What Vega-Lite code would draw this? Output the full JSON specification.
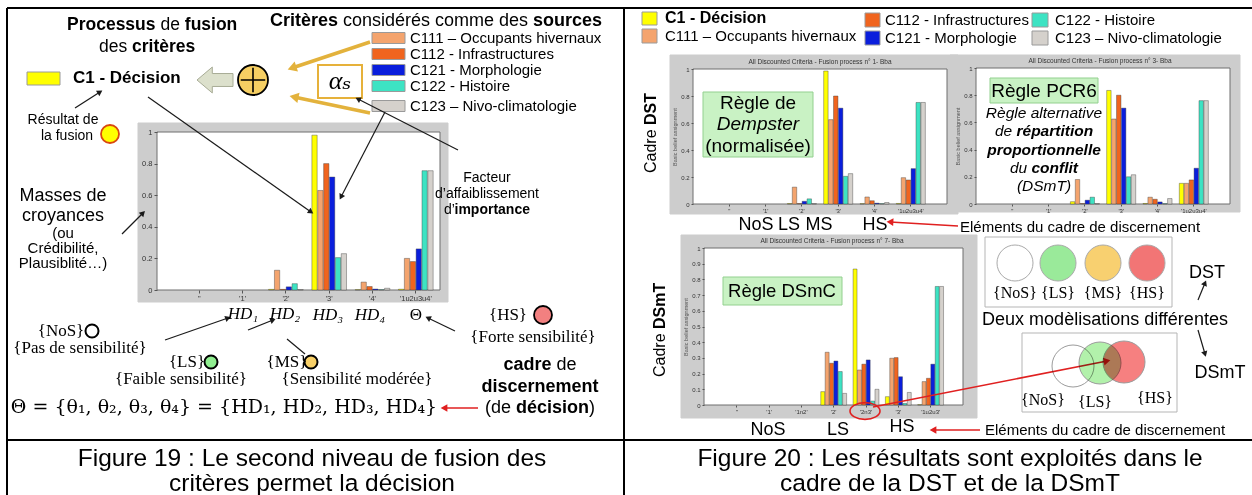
{
  "$schema": "https://vega.github.io/schema/vega-lite/v6.json",
  "width": 1252,
  "height": 495,
  "padding": 0,
  "autosize": {"type": "none"},
  "background": "white",
  "config": {
    "view": {"stroke": null},
    "axis": {"grid": false, "labelFont": "Liberation Sans", "titleFont": "Liberation Sans"},
    "text": {"font": "Liberation Sans"}
  },
  "datasets": {
    "bars": [
      {"chart":"F19","cat":"'2'","series":"C1","v":0.004},
      {"chart":"F19","cat":"'2'","series":"C111","v":0.125},
      {"chart":"F19","cat":"'2'","series":"C112","v":0.004},
      {"chart":"F19","cat":"'2'","series":"C121","v":0.02},
      {"chart":"F19","cat":"'2'","series":"C122","v":0.04},
      {"chart":"F19","cat":"'2'","series":"C123","v":0.003},
      {"chart":"F19","cat":"'3'","series":"C1","v":0.98},
      {"chart":"F19","cat":"'3'","series":"C111","v":0.63},
      {"chart":"F19","cat":"'3'","series":"C112","v":0.8},
      {"chart":"F19","cat":"'3'","series":"C121","v":0.715},
      {"chart":"F19","cat":"'3'","series":"C122","v":0.205},
      {"chart":"F19","cat":"'3'","series":"C123","v":0.23},
      {"chart":"F19","cat":"'4'","series":"C1","v":0.002},
      {"chart":"F19","cat":"'4'","series":"C111","v":0.05},
      {"chart":"F19","cat":"'4'","series":"C112","v":0.022},
      {"chart":"F19","cat":"'4'","series":"C121","v":0.006},
      {"chart":"F19","cat":"'4'","series":"C122","v":0.002},
      {"chart":"F19","cat":"'4'","series":"C123","v":0.011},
      {"chart":"F19","cat":"'1u2u3u4'","series":"C1","v":0.005},
      {"chart":"F19","cat":"'1u2u3u4'","series":"C111","v":0.2},
      {"chart":"F19","cat":"'1u2u3u4'","series":"C112","v":0.18},
      {"chart":"F19","cat":"'1u2u3u4'","series":"C121","v":0.26},
      {"chart":"F19","cat":"'1u2u3u4'","series":"C122","v":0.755},
      {"chart":"F19","cat":"'1u2u3u4'","series":"C123","v":0.755},
      {"chart":"DST","cat":"'2'","series":"C1","v":0.003},
      {"chart":"DST","cat":"'2'","series":"C111","v":0.125},
      {"chart":"DST","cat":"'2'","series":"C112","v":0.003},
      {"chart":"DST","cat":"'2'","series":"C121","v":0.02},
      {"chart":"DST","cat":"'2'","series":"C122","v":0.038},
      {"chart":"DST","cat":"'2'","series":"C123","v":0.003},
      {"chart":"DST","cat":"'3'","series":"C1","v":0.985},
      {"chart":"DST","cat":"'3'","series":"C111","v":0.625},
      {"chart":"DST","cat":"'3'","series":"C112","v":0.8},
      {"chart":"DST","cat":"'3'","series":"C121","v":0.71},
      {"chart":"DST","cat":"'3'","series":"C122","v":0.205},
      {"chart":"DST","cat":"'3'","series":"C123","v":0.225},
      {"chart":"DST","cat":"'4'","series":"C1","v":0.002},
      {"chart":"DST","cat":"'4'","series":"C111","v":0.052},
      {"chart":"DST","cat":"'4'","series":"C112","v":0.024},
      {"chart":"DST","cat":"'4'","series":"C121","v":0.006},
      {"chart":"DST","cat":"'4'","series":"C122","v":0.002},
      {"chart":"DST","cat":"'4'","series":"C123","v":0.011},
      {"chart":"DST","cat":"'1u2u3u4'","series":"C1","v":0.004},
      {"chart":"DST","cat":"'1u2u3u4'","series":"C111","v":0.195},
      {"chart":"DST","cat":"'1u2u3u4'","series":"C112","v":0.178},
      {"chart":"DST","cat":"'1u2u3u4'","series":"C121","v":0.262},
      {"chart":"DST","cat":"'1u2u3u4'","series":"C122","v":0.752},
      {"chart":"DST","cat":"'1u2u3u4'","series":"C123","v":0.752},
      {"chart":"PCR6","cat":"'2'","series":"C1","v":0.017},
      {"chart":"PCR6","cat":"'2'","series":"C111","v":0.18},
      {"chart":"PCR6","cat":"'2'","series":"C112","v":0.003},
      {"chart":"PCR6","cat":"'2'","series":"C121","v":0.028},
      {"chart":"PCR6","cat":"'2'","series":"C122","v":0.05},
      {"chart":"PCR6","cat":"'2'","series":"C123","v":0.003},
      {"chart":"PCR6","cat":"'3'","series":"C1","v":0.835},
      {"chart":"PCR6","cat":"'3'","series":"C111","v":0.625},
      {"chart":"PCR6","cat":"'3'","series":"C112","v":0.8},
      {"chart":"PCR6","cat":"'3'","series":"C121","v":0.705},
      {"chart":"PCR6","cat":"'3'","series":"C122","v":0.2},
      {"chart":"PCR6","cat":"'3'","series":"C123","v":0.215},
      {"chart":"PCR6","cat":"'4'","series":"C1","v":0.004},
      {"chart":"PCR6","cat":"'4'","series":"C111","v":0.05},
      {"chart":"PCR6","cat":"'4'","series":"C112","v":0.035},
      {"chart":"PCR6","cat":"'4'","series":"C121","v":0.015},
      {"chart":"PCR6","cat":"'4'","series":"C122","v":0.002},
      {"chart":"PCR6","cat":"'4'","series":"C123","v":0.04},
      {"chart":"PCR6","cat":"'1u2u3u4'","series":"C1","v":0.152},
      {"chart":"PCR6","cat":"'1u2u3u4'","series":"C111","v":0.152},
      {"chart":"PCR6","cat":"'1u2u3u4'","series":"C112","v":0.177},
      {"chart":"PCR6","cat":"'1u2u3u4'","series":"C121","v":0.263},
      {"chart":"PCR6","cat":"'1u2u3u4'","series":"C122","v":0.76},
      {"chart":"PCR6","cat":"'1u2u3u4'","series":"C123","v":0.76},
      {"chart":"DSmC","cat":"'2'","series":"C1","v":0.085},
      {"chart":"DSmC","cat":"'2'","series":"C111","v":0.336},
      {"chart":"DSmC","cat":"'2'","series":"C112","v":0.266},
      {"chart":"DSmC","cat":"'2'","series":"C121","v":0.28},
      {"chart":"DSmC","cat":"'2'","series":"C122","v":0.213},
      {"chart":"DSmC","cat":"'2'","series":"C123","v":0.074},
      {"chart":"DSmC","cat":"'2n3'","series":"C1","v":0.866},
      {"chart":"DSmC","cat":"'2n3'","series":"C111","v":0.223},
      {"chart":"DSmC","cat":"'2n3'","series":"C112","v":0.26},
      {"chart":"DSmC","cat":"'2n3'","series":"C121","v":0.287},
      {"chart":"DSmC","cat":"'2n3'","series":"C122","v":0.025},
      {"chart":"DSmC","cat":"'2n3'","series":"C123","v":0.1},
      {"chart":"DSmC","cat":"'3'","series":"C1","v":0.053},
      {"chart":"DSmC","cat":"'3'","series":"C111","v":0.298},
      {"chart":"DSmC","cat":"'3'","series":"C112","v":0.302},
      {"chart":"DSmC","cat":"'3'","series":"C121","v":0.18},
      {"chart":"DSmC","cat":"'3'","series":"C122","v":0.01},
      {"chart":"DSmC","cat":"'3'","series":"C123","v":0.08},
      {"chart":"DSmC","cat":"'1u2u3'","series":"C1","v":0.002},
      {"chart":"DSmC","cat":"'1u2u3'","series":"C111","v":0.149},
      {"chart":"DSmC","cat":"'1u2u3'","series":"C112","v":0.17},
      {"chart":"DSmC","cat":"'1u2u3'","series":"C121","v":0.26},
      {"chart":"DSmC","cat":"'1u2u3'","series":"C122","v":0.755},
      {"chart":"DSmC","cat":"'1u2u3'","series":"C123","v":0.755}
    ],
    "rects": [
      {"x":138,"y":123,"x2":448,"y2":302,"k":"frame"},
      {"x":670,"y":55,"x2":958,"y2":214,"k":"frame"},
      {"x":950,"y":55,"x2":1240,"y2":212,"k":"frame"},
      {"x":681,"y":235,"x2":977,"y2":418,"k":"frame"},
      {"x":157,"y":132,"x2":440,"y2":290,"k":"plot"},
      {"x":693,"y":69,"x2":947,"y2":204,"k":"plot"},
      {"x":976,"y":68,"x2":1230,"y2":204,"k":"plot"},
      {"x":704,"y":248,"x2":963,"y2":405,"k":"plot"},
      {"x":703,"y":92,"x2":813,"y2":157,"k":"gbox"},
      {"x":990,"y":78,"x2":1098,"y2":103,"k":"gbox"},
      {"x":723,"y":277,"x2":842,"y2":305,"k":"gbox"},
      {"x":985,"y":237,"x2":1172,"y2":307,"k":"vbox"},
      {"x":1022,"y":333,"x2":1177,"y2":412,"k":"vbox"},
      {"x":27,"y":72,"x2":60,"y2":85,"k":"C1"},
      {"x":372,"y":32.5,"x2":405,"y2":43.5,"k":"C111"},
      {"x":372,"y":48.5,"x2":405,"y2":59.5,"k":"C112"},
      {"x":372,"y":64.5,"x2":405,"y2":75.5,"k":"C121"},
      {"x":372,"y":80.5,"x2":405,"y2":91.5,"k":"C122"},
      {"x":372,"y":100.5,"x2":405,"y2":111.5,"k":"C123"},
      {"x":642,"y":12,"x2":657,"y2":25,"k":"C1"},
      {"x":642,"y":29,"x2":657,"y2":43,"k":"C111"},
      {"x":865,"y":13,"x2":880,"y2":27,"k":"C112"},
      {"x":865,"y":31,"x2":880,"y2":45,"k":"C121"},
      {"x":1032,"y":13,"x2":1048,"y2":27,"k":"C122"},
      {"x":1032,"y":31,"x2":1048,"y2":45,"k":"C123"},
      {"x":318,"y":65,"x2":362,"y2":98,"k":"abox"}
    ],
    "lines": [
      {"x":7,"y":8,"x2":1252,"y2":8,"k":"b","h":0},
      {"x":7,"y":8,"x2":7,"y2":495,"k":"b","h":0},
      {"x":624,"y":8,"x2":624,"y2":495,"k":"b","h":0},
      {"x":7,"y":440,"x2":1252,"y2":440,"k":"b","h":0},
      {"x":75,"y":108,"x2":100,"y2":92,"k":"k","h":1},
      {"x":148,"y":97,"x2":311,"y2":212,"k":"k","h":1},
      {"x":385,"y":112,"x2":341,"y2":197,"k":"k","h":1},
      {"x":458,"y":150,"x2":358,"y2":99,"k":"k","h":1},
      {"x":122,"y":234,"x2":143,"y2":213,"k":"k","h":1},
      {"x":165,"y":340,"x2":228,"y2":318,"k":"k","h":1},
      {"x":248,"y":330,"x2":273,"y2":320,"k":"k","h":1},
      {"x":305,"y":354,"x2":287,"y2":339,"k":"k","h":0},
      {"x":455,"y":331,"x2":428,"y2":318,"k":"k","h":1},
      {"x":370,"y":42,"x2":292,"y2":68,"k":"g","h":1},
      {"x":370,"y":113,"x2":294,"y2":97,"k":"g","h":1},
      {"x":478,"y":408,"x2":444,"y2":408,"k":"r","h":1},
      {"x":958,"y":226,"x2":890,"y2":222,"k":"r","h":1},
      {"x":980,"y":430,"x2":933,"y2":430,"k":"r","h":1},
      {"x":873,"y":407,"x2":1107,"y2":361,"k":"r","h":1},
      {"x":1198,"y":300,"x2":1205,"y2":283,"k":"k","h":1},
      {"x":1198,"y":330,"x2":1205,"y2":354,"k":"k","h":1}
    ],
    "points": [
      {"x":110,"y":134,"k":"res"},
      {"x":92,"y":331,"k":"nos"},
      {"x":211,"y":362,"k":"ls"},
      {"x":311,"y":362,"k":"ms"},
      {"x":543,"y":315,"k":"hs"},
      {"x":1015,"y":263,"k":"vnos"},
      {"x":1058,"y":263,"k":"vls"},
      {"x":1103,"y":263,"k":"vms"},
      {"x":1147,"y":263,"k":"vhs"},
      {"x":1073,"y":366,"k":"wnos"},
      {"x":1100,"y":363,"k":"wls"},
      {"x":1124,"y":362,"k":"whs"},
      {"x":253,"y":80,"k":"oplus"}
    ],
    "texts": [
      {"t":"Figure 19 : Le second niveau de fusion des","x":312,"y":459,"s":"c","r":"cap"},
      {"t":"critères permet la décision","x":312,"y":484,"s":"c","r":"cap"},
      {"t":"Figure 20 : Les résultats sont exploités dans le","x":950,"y":459,"s":"c","r":"cap"},
      {"t":"cadre de la DST et de la DSmT","x":950,"y":484,"s":"c","r":"cap"},
      {"t":"Processus","x":67,"y":25,"s":"lb","r":"h17"},
      {"t":"de","x":160.4,"y":25,"s":"l","r":"h17"},
      {"t":"fusion","x":184.8,"y":25,"s":"lb","r":"h17"},
      {"t":"des","x":99,"y":47,"s":"l","r":"h17"},
      {"t":"critères","x":132,"y":47,"s":"lb","r":"h17"},
      {"t":"C1 - Décision","x":73,"y":78,"s":"lb","r":"c1"},
      {"t":"Critères","x":270,"y":21,"s":"lb","r":"h18"},
      {"t":"considérés comme des","x":343,"y":21,"s":"l","r":"h18"},
      {"t":"sources","x":533,"y":21,"s":"lb","r":"h18"},
      {"t":"C111 – Occupants hivernaux","x":410,"y":38,"s":"l","r":"leg15"},
      {"t":"C112 - Infrastructures","x":410,"y":54,"s":"l","r":"leg15"},
      {"t":"C121 - Morphologie","x":410,"y":70,"s":"l","r":"leg15"},
      {"t":"C122 - Histoire","x":410,"y":86,"s":"l","r":"leg15"},
      {"t":"C123 – Nivo-climatologie","x":410,"y":106,"s":"l","r":"leg15"},
      {"t":"Résultat de","x":63,"y":120,"s":"c","r":"lab14"},
      {"t":"la fusion","x":67,"y":136,"s":"c","r":"lab14"},
      {"t":"Masses de","x":63,"y":196,"s":"c","r":"big18"},
      {"t":"croyances","x":63,"y":216,"s":"c","r":"big18"},
      {"t":"(ou","x":63,"y":233,"s":"c","r":"lab15"},
      {"t":"Crédibilité,","x":63,"y":248,"s":"c","r":"lab15"},
      {"t":"Plausiblité…)","x":63,"y":263,"s":"c","r":"lab15"},
      {"t":"Facteur","x":487,"y":178,"s":"c","r":"lab14"},
      {"t":"d’affaiblissement","x":487,"y":194,"s":"c","r":"lab14"},
      {"t":"d’","x":444,"y":210,"s":"l","r":"lab14"},
      {"t":"importance","x":454.5,"y":210,"s":"lb","r":"lab14"},
      {"t":"αₛ","x":340,"y":81,"s":"sci","r":"alpha"},
      {"t":"HD₁","x":243,"y":314,"s":"sci","r":"math16"},
      {"t":"HD₂","x":285,"y":314,"s":"sci","r":"math16"},
      {"t":"HD₃","x":328,"y":315,"s":"sci","r":"math16"},
      {"t":"HD₄","x":370,"y":315,"s":"sci","r":"math16"},
      {"t":"Θ","x":416,"y":315,"s":"sc","r":"math18"},
      {"t":"{NoS}","x":61,"y":331,"s":"sc","r":"math18"},
      {"t":"{Pas de sensibilité}","x":80,"y":348,"s":"sc","r":"math18"},
      {"t":"{LS}","x":187,"y":362,"s":"sc","r":"math18"},
      {"t":"{Faible sensibilité}","x":181,"y":379,"s":"sc","r":"math18"},
      {"t":"{MS}","x":287,"y":362,"s":"sc","r":"math18"},
      {"t":"{Sensibilité modérée}","x":357,"y":379,"s":"sc","r":"math18"},
      {"t":"{HS}","x":508,"y":315,"s":"sc","r":"math18"},
      {"t":"{Forte sensibilité}","x":533,"y":337,"s":"sc","r":"math18"},
      {"t":"Θ = {θ₁, θ₂, θ₃, θ₄} = {HD₁, HD₂, HD₃, HD₄}","x":224,"y":407,"s":"sd","r":"math19"},
      {"t":"cadre","x":503.5,"y":365,"s":"lb","r":"cad"},
      {"t":"de","x":556.5,"y":365,"s":"l","r":"cad"},
      {"t":"discernement","x":540,"y":387,"s":"cb","r":"cad"},
      {"t":"(de","x":485,"y":408,"s":"l","r":"cad"},
      {"t":"décision","x":516,"y":408,"s":"lb","r":"cad"},
      {"t":")","x":589,"y":408,"s":"l","r":"cad"},
      {"t":"C1 - Décision","x":665,"y":18,"s":"lb","r":"leg16"},
      {"t":"C111 – Occupants hivernaux","x":665,"y":36,"s":"l","r":"leg15"},
      {"t":"C112 - Infrastructures","x":885,"y":20,"s":"l","r":"leg15"},
      {"t":"C121 - Morphologie","x":885,"y":38,"s":"l","r":"leg15"},
      {"t":"C122 - Histoire","x":1055,"y":20,"s":"l","r":"leg15"},
      {"t":"C123 – Nivo-climatologie","x":1055,"y":38,"s":"l","r":"leg15"},
      {"t":"Cadre","x":651,"y":173,"s":"rl","r":"cadre"},
      {"t":"DST","x":651,"y":125,"s":"rlb","r":"cadre"},
      {"t":"Cadre","x":660,"y":377,"s":"rl","r":"cadre"},
      {"t":"DSmT","x":660,"y":329,"s":"rlb","r":"cadre"},
      {"t":"All Discounted Criteria - Fusion process n° 1- Bba","x":820,"y":62,"s":"tiny","r":"tiny"},
      {"t":"All Discounted Criteria - Fusion process n° 3- Bba","x":1100,"y":61,"s":"tiny","r":"tiny"},
      {"t":"All Discounted Criteria - Fusion process n° 7- Bba","x":832,"y":241,"s":"tiny","r":"tiny"},
      {"t":"Règle de","x":758,"y":103,"s":"c","r":"box19"},
      {"t":"Dempster","x":758,"y":124,"s":"ci","r":"box19"},
      {"t":"(normalisée)","x":758,"y":146,"s":"c","r":"box19"},
      {"t":"Règle PCR6","x":1044,"y":91,"s":"c","r":"box19"},
      {"t":"Règle alternative","x":1044,"y":113,"s":"ci","r":"sub"},
      {"t":"de","x":995,"y":131,"s":"li","r":"sub"},
      {"t":"répartition","x":1016.5,"y":131,"s":"lbi","r":"sub"},
      {"t":"proportionnelle","x":1044,"y":150,"s":"cbi","r":"sub"},
      {"t":"du","x":1010,"y":168,"s":"li","r":"sub"},
      {"t":"conflit","x":1031.5,"y":168,"s":"lbi","r":"sub"},
      {"t":"(DSmT)","x":1044,"y":186,"s":"ci","r":"sub"},
      {"t":"Règle DSmC","x":782,"y":291,"s":"c","r":"box185"},
      {"t":"NoS","x":756,"y":225,"s":"c","r":"elem"},
      {"t":"LS","x":789,"y":225,"s":"c","r":"elem"},
      {"t":"MS","x":819,"y":225,"s":"c","r":"elem"},
      {"t":"HS","x":875,"y":225,"s":"c","r":"elem"},
      {"t":"Eléments du cadre de discernement","x":960,"y":227,"s":"l","r":"leg15"},
      {"t":"NoS","x":768,"y":430,"s":"c","r":"elem"},
      {"t":"LS","x":838,"y":430,"s":"c","r":"elem"},
      {"t":"HS","x":902,"y":427,"s":"c","r":"elem"},
      {"t":"Eléments du cadre de discernement","x":985,"y":430,"s":"l","r":"leg15"},
      {"t":"{NoS}","x":1015,"y":293,"s":"sc","r":"venn"},
      {"t":"{LS}","x":1058,"y":293,"s":"sc","r":"venn"},
      {"t":"{MS}","x":1103,"y":293,"s":"sc","r":"venn"},
      {"t":"{HS}","x":1147,"y":293,"s":"sc","r":"venn"},
      {"t":"DST","x":1207,"y":273,"s":"c","r":"elem"},
      {"t":"Deux modèlisations différentes","x":1105,"y":320,"s":"c","r":"h18"},
      {"t":"{NoS}","x":1043,"y":400,"s":"sc","r":"venn"},
      {"t":"{LS}","x":1095,"y":402,"s":"sc","r":"venn"},
      {"t":"{HS}","x":1155,"y":398,"s":"sc","r":"venn"},
      {"t":"DSmT","x":1220,"y":373,"s":"c","r":"elem"}
    ]
  },
  "resolve": {
    "scale": {"x": "independent", "y": "independent", "xOffset": "independent", "color": "independent", "fill": "independent", "stroke": "independent", "size": "independent", "strokeWidth": "independent"},
    "axis": {"x": "independent", "y": "independent"}
  },
  "layer": [
    {
      "encoding": {
        "x": {"field": "x", "type": "quantitative", "scale": {"domain": [0, 1252], "range": [0, 1252], "nice": false, "zero": false}, "axis": null},
        "y": {"field": "y", "type": "quantitative", "scale": {"domain": [0, 495], "range": [0, 495], "nice": false, "zero": false}, "axis": null},
        "x2": {"field": "x2"},
        "y2": {"field": "y2"}
      },
      "layer": [
        {
          "data": {"name": "rects"},
          "transform": [{"filter": "datum.k != 'abox'"}],
          "mark": {"type": "rect", "strokeWidth": 1},
          "encoding": {
            "fill": {"field": "k", "type": "nominal", "legend": null, "scale": {"domain": ["frame","plot","gbox","vbox","C1","C111","C112","C121","C122","C123"], "range": ["#CDCDCD","#FFFFFF","#C9F2C4","#FFFFFF","#FFFF00","#F4A46E","#F0641E","#0A1EDC","#3DE3C3","#D5D1CC"]}},
            "stroke": {"field": "k", "type": "nominal", "legend": null, "scale": {"domain": ["frame","plot","gbox","vbox","C1","C111","C112","C121","C122","C123"], "range": ["#CDCDCD","#6E6E6E","#93D08F","#B5B5B5","#9A9A9A","#9A9A9A","#9A9A9A","#9A9A9A","#9A9A9A","#9A9A9A"]}}
          }
        },
        {
          "data": {"name": "rects"},
          "transform": [{"filter": "datum.k == 'abox'"}],
          "mark": {"type": "rect", "fill": "#FFFFFF", "stroke": "#E6B13A", "strokeWidth": 2}
        }
      ]
    },
    {
      "data": {"name": "bars"},
      "transform": [{"filter": "datum.chart == 'F19'"}],
      "mark": {"type": "bar", "stroke": "#3a3a3a", "strokeWidth": 0.4},
      "encoding": {
        "x": {"field": "cat", "type": "nominal", "scale": {"domain": ["''","'1'","'2'","'3'","'4'","'1u2u3u4'"], "range": [160.3, 454.8], "paddingInner": 0.2, "paddingOuter": 0.5},
              "axis": {"orient": "bottom", "offset": -205, "zindex": 2, "title": null, "labelAngle": 0, "domain": false, "tickSize": 3, "tickColor": "#555", "labelFontSize": 7.5, "labelColor": "#333", "labelPadding": 1}},
        "xOffset": {"field": "series", "type": "nominal", "scale": {"domain": ["C1","C111","C112","C121","C122","C123"], "paddingInner": 0.1}},
        "y": {"field": "v", "type": "quantitative", "scale": {"domain": [0, 1], "range": [290, 132], "nice": false},
              "axis": {"orient": "left", "offset": -157, "zindex": 2, "title": null, "values": [0,0.2,0.4,0.6,0.8,1], "format": "~g", "domain": false, "tickSize": 3, "tickColor": "#555", "labelFontSize": 7.5, "labelColor": "#333", "labelPadding": 2}},
        "color": {"field": "series", "type": "nominal", "legend": null, "scale": {"domain": ["C1","C111","C112","C121","C122","C123"], "range": ["#FFFF00","#F4A46E","#F0641E","#0A1EDC","#3DE3C3","#D5D1CC"]}}
      }
    },
    {
      "data": {"name": "bars"},
      "transform": [{"filter": "datum.chart == 'DST'"}],
      "mark": {"type": "bar", "stroke": "#3a3a3a", "strokeWidth": 0.4},
      "encoding": {
        "x": {"field": "cat", "type": "nominal", "scale": {"domain": ["''","'1'","'2'","'3'","'4'","'1u2u3u4'"], "range": [696.6, 943.5], "paddingInner": 0.2, "paddingOuter": 0.5},
              "axis": {"orient": "bottom", "offset": -291, "zindex": 2, "title": null, "labelAngle": 0, "domain": false, "tickSize": 2, "tickColor": "#555", "labelFontSize": 6, "labelColor": "#333", "labelPadding": 1}},
        "xOffset": {"field": "series", "type": "nominal", "scale": {"domain": ["C1","C111","C112","C121","C122","C123"], "paddingInner": 0.1}},
        "y": {"field": "v", "type": "quantitative", "scale": {"domain": [0, 1], "range": [204, 69], "nice": false},
              "axis": {"orient": "left", "offset": -693, "zindex": 2, "title": "Basic belief assignment", "titleFontSize": 5.5, "titleFontWeight": "normal", "titleColor": "#555", "titlePadding": 3, "values": [0,0.2,0.4,0.6,0.8,1], "format": "~g", "domain": false, "tickSize": 2, "tickColor": "#555", "labelFontSize": 6, "labelColor": "#333", "labelPadding": 2}},
        "color": {"field": "series", "type": "nominal", "legend": null, "scale": {"domain": ["C1","C111","C112","C121","C122","C123"], "range": ["#FFFF00","#F4A46E","#F0641E","#0A1EDC","#3DE3C3","#D5D1CC"]}}
      }
    },
    {
      "data": {"name": "bars"},
      "transform": [{"filter": "datum.chart == 'PCR6'"}],
      "mark": {"type": "bar", "stroke": "#3a3a3a", "strokeWidth": 0.4},
      "encoding": {
        "x": {"field": "cat", "type": "nominal", "scale": {"domain": ["''","'1'","'2'","'3'","'4'","'1u2u3u4'"], "range": [979.6, 1226.5], "paddingInner": 0.2, "paddingOuter": 0.5},
              "axis": {"orient": "bottom", "offset": -291, "zindex": 2, "title": null, "labelAngle": 0, "domain": false, "tickSize": 2, "tickColor": "#555", "labelFontSize": 6, "labelColor": "#333", "labelPadding": 1}},
        "xOffset": {"field": "series", "type": "nominal", "scale": {"domain": ["C1","C111","C112","C121","C122","C123"], "paddingInner": 0.1}},
        "y": {"field": "v", "type": "quantitative", "scale": {"domain": [0, 1], "range": [204, 68], "nice": false},
              "axis": {"orient": "left", "offset": -976, "zindex": 2, "title": "Basic belief assignment", "titleFontSize": 5.5, "titleFontWeight": "normal", "titleColor": "#555", "titlePadding": 3, "values": [0,0.2,0.4,0.6,0.8,1], "format": "~g", "domain": false, "tickSize": 2, "tickColor": "#555", "labelFontSize": 6, "labelColor": "#333", "labelPadding": 2}},
        "color": {"field": "series", "type": "nominal", "legend": null, "scale": {"domain": ["C1","C111","C112","C121","C122","C123"], "range": ["#FFFF00","#F4A46E","#F0641E","#0A1EDC","#3DE3C3","#D5D1CC"]}}
      }
    },
    {
      "data": {"name": "bars"},
      "transform": [{"filter": "datum.chart == 'DSmC'"}],
      "mark": {"type": "bar", "stroke": "#3a3a3a", "strokeWidth": 0.4},
      "encoding": {
        "x": {"field": "cat", "type": "nominal", "scale": {"domain": ["''","'1'","'1n2'","'2'","'2n3'","'3'","'1u2u3'"], "range": [707.7, 959.7], "paddingInner": 0.2, "paddingOuter": 0.5},
              "axis": {"orient": "bottom", "offset": -90, "zindex": 2, "title": null, "labelAngle": 0, "domain": false, "tickSize": 2, "tickColor": "#555", "labelFontSize": 6, "labelColor": "#333", "labelPadding": 1}},
        "xOffset": {"field": "series", "type": "nominal", "scale": {"domain": ["C1","C111","C112","C121","C122","C123"], "paddingInner": 0.1}},
        "y": {"field": "v", "type": "quantitative", "scale": {"domain": [0, 1], "range": [405, 248], "nice": false},
              "axis": {"orient": "left", "offset": -704, "zindex": 2, "title": "Basic belief assignment", "titleFontSize": 5.5, "titleFontWeight": "normal", "titleColor": "#555", "titlePadding": 3, "values": [0,0.1,0.2,0.3,0.4,0.5,0.6,0.7,0.8,0.9,1], "format": "~g", "domain": false, "tickSize": 2, "tickColor": "#555", "labelFontSize": 6, "labelColor": "#333", "labelPadding": 2}},
        "color": {"field": "series", "type": "nominal", "legend": null, "scale": {"domain": ["C1","C111","C112","C121","C122","C123"], "range": ["#FFFF00","#F4A46E","#F0641E","#0A1EDC","#3DE3C3","#D5D1CC"]}}
      }
    },
    {
      "encoding": {
        "x": {"field": "x", "type": "quantitative", "scale": {"domain": [0, 1252], "range": [0, 1252], "nice": false, "zero": false}, "axis": null},
        "y": {"field": "y", "type": "quantitative", "scale": {"domain": [0, 495], "range": [0, 495], "nice": false, "zero": false}, "axis": null}
      },
      "resolve": {"scale": {"size": "independent", "color": "independent", "fill": "independent", "stroke": "independent", "strokeWidth": "independent"}},
      "layer": [
        {
          "data": {"name": "lines"},
          "mark": {"type": "rule"},
          "encoding": {
            "x2": {"field": "x2"},
            "y2": {"field": "y2"},
            "color": {"field": "k", "type": "nominal", "legend": null, "scale": {"domain": ["b","k","r","g"], "range": ["#000000","#1a1a1a","#E02020","#E3B23C"]}},
            "strokeWidth": {"field": "k", "type": "nominal", "legend": null, "scale": {"type": "ordinal", "domain": ["b","k","r","g"], "range": [2, 1.2, 1.6, 3.5]}}
          }
        },
        {
          "data": {"name": "lines"},
          "transform": [
            {"filter": "datum.h == 1"},
            {"calculate": "atan2(datum.y2 - datum.y, datum.x2 - datum.x) * 180 / PI + 90", "as": "ang"}
          ],
          "mark": {"type": "point", "shape": "triangle-up", "filled": true, "opacity": 1},
          "encoding": {
            "x": {"field": "x2", "type": "quantitative", "scale": {"domain": [0, 1252], "range": [0, 1252], "nice": false, "zero": false}, "axis": null},
            "y": {"field": "y2", "type": "quantitative", "scale": {"domain": [0, 495], "range": [0, 495], "nice": false, "zero": false}, "axis": null},
            "angle": {"field": "ang", "type": "quantitative", "scale": null},
            "color": {"field": "k", "type": "nominal", "legend": null, "scale": {"domain": ["b","k","r","g"], "range": ["#000000","#1a1a1a","#E02020","#E3B23C"]}},
            "size": {"field": "k", "type": "nominal", "legend": null, "scale": {"type": "ordinal", "domain": ["b","k","r","g"], "range": [40, 40, 60, 110]}}
          }
        },
        {
          "data": {"values": [{"x": 215, "y": 80}]},
          "mark": {"type": "point", "shape": "M -1 0 L -0.15 -0.72 L -0.15 -0.36 L 1 -0.36 L 1 0.36 L -0.15 0.36 L -0.15 0.72 Z", "size": 1296, "filled": true, "fill": "#DCE0CC", "stroke": "#A8AC96", "strokeWidth": 1, "opacity": 1}
        },
        {
          "data": {"name": "points"},
          "transform": [{"filter": "datum.k == 'oplus' || datum.k == 'res' || datum.k == 'hs'"}],
          "mark": {"type": "point", "shape": "circle", "filled": true, "opacity": 1, "strokeWidth": 1.8},
          "encoding": {
            "fill": {"field": "k", "type": "nominal", "legend": null, "scale": {"domain": ["oplus","res","hs"], "range": ["#F6CF63","#FFFF00","#F28080"]}},
            "stroke": {"field": "k", "type": "nominal", "legend": null, "scale": {"domain": ["oplus","res","hs"], "range": ["#000000","#D9480F","#000000"]}},
            "size": {"field": "k", "type": "nominal", "legend": null, "scale": {"type": "ordinal", "domain": ["oplus","res","hs"], "range": [900, 324, 324]}}
          }
        },
        {
          "data": {"values": [{"x": 253, "y": 80}]},
          "mark": {"type": "point", "shape": "M -1 0 L 1 0 M 0 -1 L 0 1", "size": 600, "filled": false, "stroke": "#000000", "strokeWidth": 1.6, "opacity": 1}
        },
        {
          "data": {"name": "points"},
          "transform": [{"filter": "indexof(['nos','ls','ms'], datum.k) >= 0"}],
          "mark": {"type": "point", "shape": "circle", "filled": true, "opacity": 1, "size": 169, "stroke": "#000000", "strokeWidth": 2},
          "encoding": {
            "fill": {"field": "k", "type": "nominal", "legend": null, "scale": {"domain": ["nos","ls","ms"], "range": ["#FFFFFF","#90EE90","#F8D068"]}}
          }
        },
        {
          "data": {"name": "points"},
          "transform": [{"filter": "indexof(['vnos','vls','vms','vhs'], datum.k) >= 0"}],
          "mark": {"type": "point", "shape": "circle", "filled": true, "opacity": 1, "size": 1296, "stroke": "#AAAAAA", "strokeWidth": 1},
          "encoding": {
            "fill": {"field": "k", "type": "nominal", "legend": null, "scale": {"domain": ["vnos","vls","vms","vhs"], "range": ["#FFFFFF","#9AEA9A","#F8D070","#F27575"]}}
          }
        },
        {
          "data": {"name": "points"},
          "transform": [{"filter": "indexof(['wnos','wls','whs'], datum.k) >= 0"}],
          "mark": {"type": "point", "shape": "circle", "filled": true, "fillOpacity": 0.85, "blend": "multiply", "size": 1764, "stroke": "#9A9A9A", "strokeWidth": 1},
          "encoding": {
            "fill": {"field": "k", "type": "nominal", "legend": null, "scale": {"domain": ["wnos","wls","whs"], "range": ["#FFFFFF","#A4EE9C","#F46A6A"]}}
          }
        },
        {
          "data": {"values": [{"x": 865, "y": 411}]},
          "mark": {"type": "point", "shape": "M -1.8 0 A 1.8 1 0 1 1 1.8 0 A 1.8 1 0 1 1 -1.8 0 Z", "size": 278, "filled": false, "stroke": "#E02020", "strokeWidth": 1.6, "opacity": 1}
        },
        {
          "data": {"name": "texts"},
          "transform": [{"filter": "datum.s == 'c'"}],
          "mark": {"type": "text", "align": "center", "baseline": "middle", "font": "Liberation Sans", "color": "#000"},
          "encoding": {"text": {"field": "t"}, "size": {"field": "r", "type": "nominal", "legend": null, "scale": {"type": "ordinal", "domain": ["cap","h17","h18","c1","leg15","leg16","lab14","lab15","big18","math16","math18","math19","alpha","cad","box19","box185","sub","elem","venn","cadre","tiny"], "range": [24.5,17.5,18,17,15,16,14,15,18,17,17,19,26,18,19,18.5,15.5,18,16,16,6.5]}}}
        },
        {
          "data": {"name": "texts"},
          "transform": [{"filter": "datum.s == 'cb'"}],
          "mark": {"type": "text", "align": "center", "baseline": "middle", "font": "Liberation Sans", "fontWeight": "bold", "color": "#000"},
          "encoding": {"text": {"field": "t"}, "size": {"field": "r", "type": "nominal", "legend": null, "scale": {"type": "ordinal", "domain": ["cap","h17","h18","c1","leg15","leg16","lab14","lab15","big18","math16","math18","math19","alpha","cad","box19","box185","sub","elem","venn","cadre","tiny"], "range": [24.5,17.5,18,17,15,16,14,15,18,17,17,19,26,18,19,18.5,15.5,18,16,16,6.5]}}}
        },
        {
          "data": {"name": "texts"},
          "transform": [{"filter": "datum.s == 'l'"}],
          "mark": {"type": "text", "align": "left", "baseline": "middle", "font": "Liberation Sans", "color": "#000"},
          "encoding": {"text": {"field": "t"}, "size": {"field": "r", "type": "nominal", "legend": null, "scale": {"type": "ordinal", "domain": ["cap","h17","h18","c1","leg15","leg16","lab14","lab15","big18","math16","math18","math19","alpha","cad","box19","box185","sub","elem","venn","cadre","tiny"], "range": [24.5,17.5,18,17,15,16,14,15,18,17,17,19,26,18,19,18.5,15.5,18,16,16,6.5]}}}
        },
        {
          "data": {"name": "texts"},
          "transform": [{"filter": "datum.s == 'lb'"}],
          "mark": {"type": "text", "align": "left", "baseline": "middle", "font": "Liberation Sans", "fontWeight": "bold", "color": "#000"},
          "encoding": {"text": {"field": "t"}, "size": {"field": "r", "type": "nominal", "legend": null, "scale": {"type": "ordinal", "domain": ["cap","h17","h18","c1","leg15","leg16","lab14","lab15","big18","math16","math18","math19","alpha","cad","box19","box185","sub","elem","venn","cadre","tiny"], "range": [24.5,17.5,18,17,15,16,14,15,18,17,17,19,26,18,19,18.5,15.5,18,16,16,6.5]}}}
        },
        {
          "data": {"name": "texts"},
          "transform": [{"filter": "datum.s == 'ci'"}],
          "mark": {"type": "text", "align": "center", "baseline": "middle", "font": "Liberation Sans", "fontStyle": "italic", "color": "#000"},
          "encoding": {"text": {"field": "t"}, "size": {"field": "r", "type": "nominal", "legend": null, "scale": {"type": "ordinal", "domain": ["cap","h17","h18","c1","leg15","leg16","lab14","lab15","big18","math16","math18","math19","alpha","cad","box19","box185","sub","elem","venn","cadre","tiny"], "range": [24.5,17.5,18,17,15,16,14,15,18,17,17,19,26,18,19,18.5,15.5,18,16,16,6.5]}}}
        },
        {
          "data": {"name": "texts"},
          "transform": [{"filter": "datum.s == 'li'"}],
          "mark": {"type": "text", "align": "left", "baseline": "middle", "font": "Liberation Sans", "fontStyle": "italic", "color": "#000"},
          "encoding": {"text": {"field": "t"}, "size": {"field": "r", "type": "nominal", "legend": null, "scale": {"type": "ordinal", "domain": ["cap","h17","h18","c1","leg15","leg16","lab14","lab15","big18","math16","math18","math19","alpha","cad","box19","box185","sub","elem","venn","cadre","tiny"], "range": [24.5,17.5,18,17,15,16,14,15,18,17,17,19,26,18,19,18.5,15.5,18,16,16,6.5]}}}
        },
        {
          "data": {"name": "texts"},
          "transform": [{"filter": "datum.s == 'lbi'"}],
          "mark": {"type": "text", "align": "left", "baseline": "middle", "font": "Liberation Sans", "fontStyle": "italic", "fontWeight": "bold", "color": "#000"},
          "encoding": {"text": {"field": "t"}, "size": {"field": "r", "type": "nominal", "legend": null, "scale": {"type": "ordinal", "domain": ["cap","h17","h18","c1","leg15","leg16","lab14","lab15","big18","math16","math18","math19","alpha","cad","box19","box185","sub","elem","venn","cadre","tiny"], "range": [24.5,17.5,18,17,15,16,14,15,18,17,17,19,26,18,19,18.5,15.5,18,16,16,6.5]}}}
        },
        {
          "data": {"name": "texts"},
          "transform": [{"filter": "datum.s == 'cbi'"}],
          "mark": {"type": "text", "align": "center", "baseline": "middle", "font": "Liberation Sans", "fontStyle": "italic", "fontWeight": "bold", "color": "#000"},
          "encoding": {"text": {"field": "t"}, "size": {"field": "r", "type": "nominal", "legend": null, "scale": {"type": "ordinal", "domain": ["cap","h17","h18","c1","leg15","leg16","lab14","lab15","big18","math16","math18","math19","alpha","cad","box19","box185","sub","elem","venn","cadre","tiny"], "range": [24.5,17.5,18,17,15,16,14,15,18,17,17,19,26,18,19,18.5,15.5,18,16,16,6.5]}}}
        },
        {
          "data": {"name": "texts"},
          "transform": [{"filter": "datum.s == 'rl'"}],
          "mark": {"type": "text", "align": "left", "baseline": "middle", "angle": 270, "font": "Liberation Sans", "color": "#000"},
          "encoding": {"text": {"field": "t"}, "size": {"field": "r", "type": "nominal", "legend": null, "scale": {"type": "ordinal", "domain": ["cap","h17","h18","c1","leg15","leg16","lab14","lab15","big18","math16","math18","math19","alpha","cad","box19","box185","sub","elem","venn","cadre","tiny"], "range": [24.5,17.5,18,17,15,16,14,15,18,17,17,19,26,18,19,18.5,15.5,18,16,16,6.5]}}}
        },
        {
          "data": {"name": "texts"},
          "transform": [{"filter": "datum.s == 'rlb'"}],
          "mark": {"type": "text", "align": "left", "baseline": "middle", "angle": 270, "font": "Liberation Sans", "fontWeight": "bold", "color": "#000"},
          "encoding": {"text": {"field": "t"}, "size": {"field": "r", "type": "nominal", "legend": null, "scale": {"type": "ordinal", "domain": ["cap","h17","h18","c1","leg15","leg16","lab14","lab15","big18","math16","math18","math19","alpha","cad","box19","box185","sub","elem","venn","cadre","tiny"], "range": [24.5,17.5,18,17,15,16,14,15,18,17,17,19,26,18,19,18.5,15.5,18,16,16,6.5]}}}
        },
        {
          "data": {"name": "texts"},
          "transform": [{"filter": "datum.s == 'sc'"}],
          "mark": {"type": "text", "align": "center", "baseline": "middle", "font": "Liberation Serif, DejaVu Serif", "color": "#000"},
          "encoding": {"text": {"field": "t"}, "size": {"field": "r", "type": "nominal", "legend": null, "scale": {"type": "ordinal", "domain": ["cap","h17","h18","c1","leg15","leg16","lab14","lab15","big18","math16","math18","math19","alpha","cad","box19","box185","sub","elem","venn","cadre","tiny"], "range": [24.5,17.5,18,17,15,16,14,15,18,17,17,19,26,18,19,18.5,15.5,18,16,16,6.5]}}}
        },
        {
          "data": {"name": "texts"},
          "transform": [{"filter": "datum.s == 'sd'"}],
          "mark": {"type": "text", "align": "center", "baseline": "middle", "font": "DejaVu Serif", "color": "#000"},
          "encoding": {"text": {"field": "t"}, "size": {"field": "r", "type": "nominal", "legend": null, "scale": {"type": "ordinal", "domain": ["cap","h17","h18","c1","leg15","leg16","lab14","lab15","big18","math16","math18","math19","alpha","cad","box19","box185","sub","elem","venn","cadre","tiny"], "range": [24.5,17.5,18,17,15,16,14,15,18,17,17,19,26,18,19,18.5,15.5,18,16,16,6.5]}}}
        },
        {
          "data": {"name": "texts"},
          "transform": [{"filter": "datum.s == 'sci'"}],
          "mark": {"type": "text", "align": "center", "baseline": "middle", "font": "Liberation Serif, DejaVu Serif", "fontStyle": "italic", "color": "#000"},
          "encoding": {"text": {"field": "t"}, "size": {"field": "r", "type": "nominal", "legend": null, "scale": {"type": "ordinal", "domain": ["cap","h17","h18","c1","leg15","leg16","lab14","lab15","big18","math16","math18","math19","alpha","cad","box19","box185","sub","elem","venn","cadre","tiny"], "range": [24.5,17.5,18,17,15,16,14,15,18,17,17,19,26,18,19,18.5,15.5,18,16,16,6.5]}}}
        },
        {
          "data": {"name": "texts"},
          "transform": [{"filter": "datum.s == 'tiny'"}],
          "mark": {"type": "text", "align": "center", "baseline": "middle", "font": "Liberation Sans", "fontSize": 6.5, "color": "#333"},
          "encoding": {"text": {"field": "t"}}
        }
      ]
    }
  ]
}
